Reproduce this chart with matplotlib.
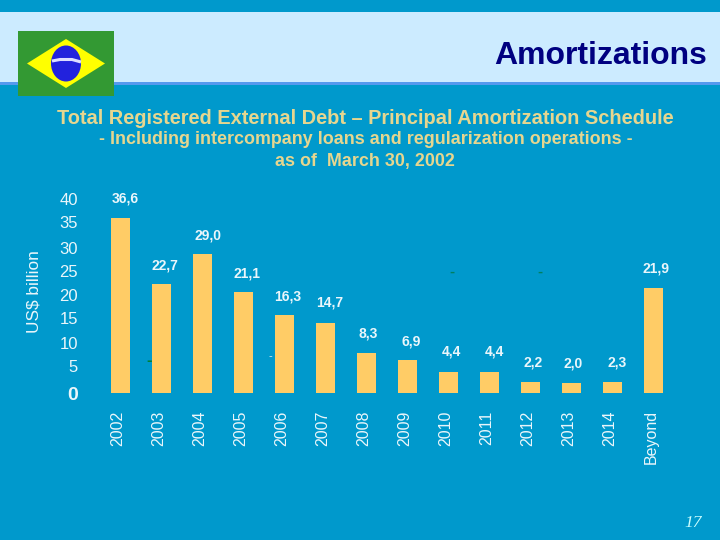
import matplotlib
matplotlib.use('Agg')
import matplotlib.pyplot as plt
from matplotlib.patches import Ellipse, Polygon, Rectangle
from matplotlib.transforms import ScaledTranslation

plt.rcParams['font.family'] = ['Liberation Sans', 'DejaVu Sans']

years = ['2002', '2003', '2004', '2005', '2006', '2007', '2008', '2009',
         '2010', '2011', '2012', '2013', '2014', 'Beyond']
values = [36.6, 22.7, 29.0, 21.1, 16.3, 14.7, 8.3, 6.9, 4.4, 4.4, 2.2, 2.0, 2.3, 21.9]
labels = ['36,6', '22,7', '29,0', '21,1', '16,3', '14,7', '8,3', '6,9',
          '4,4', '4,4', '2,2', '2,0', '2,3', '21,9']

# the value labels were placed by hand on the slide, offsets in pixels from bar top
label_dx = [5, 4, 6, 4, 4, 5, 2, 4, 3, 5, 3, 2, 5, 3]
label_dy = [20, 19, 19, 19, 19, 20, 20, 19, 20, 20, 20, 20, 20, 20]

# same for the y labels, they don't sit exactly on the scale
ytick_pos = [0, 5.6, 10.5, 15.7, 20.5, 25.5, 30.3, 35.8, 40.6]
ytick_txt = ['0', '5', '10', '15', '20', '25', '30', '35', '40']

BG = '#0099CC'
BAND = '#CCEBFF'
GOLD = '#E6D68F'
PALE = '#EAF6FB'

fig = plt.figure(figsize=(7.2, 5.4), dpi=100, facecolor=BG)

# slide furniture, in pixels
bg = fig.add_axes([0, 0, 1, 1])
bg.set_xlim(0, 720)
bg.set_ylim(540, 0)
bg.axis('off')
bg.add_patch(Rectangle((0, 12), 720, 70, color=BAND, lw=0))
bg.add_patch(Rectangle((0, 82), 720, 3, color='#5599EE', lw=0))

bg.add_patch(Rectangle((18, 31), 96, 65, color='#339933', lw=0))
bg.add_patch(Polygon([(27, 63.5), (66, 39), (105, 63.5), (66, 88)], color='#FFFF00', lw=0))
bg.add_patch(Ellipse((66, 63.5), 30, 36, color='#2222DD', lw=0))
bg.plot([52, 60, 72, 81], [61, 59.5, 59.5, 62], color='#DDDDFF', lw=2.2, solid_capstyle='butt')

bg.text(707, 56, 'Amortizations', color='#000080', fontsize=23, fontweight='bold',
        ha='right', va='center')
bg.text(365.5, 118, 'Total Registered External Debt \u2013 Principal Amortization Schedule',
        color=GOLD, fontsize=14.4, fontweight='bold', ha='center', va='center')
bg.text(365.5, 140, '- Including intercompany loans and regularization operations -',
        color=GOLD, fontsize=12.85, fontweight='bold', ha='center', va='center')
bg.text(365, 161.5, 'as of  March 30, 2002', color=GOLD, fontsize=12.85, fontweight='bold',
        ha='center', va='center')
bg.text(34, 292, 'US$ billion', color=PALE, fontsize=12.4, rotation=90, ha='center', va='center')
bg.text(693, 523, '17', color='#CCFFFF', fontsize=12.5, style='italic', family='Liberation Serif',
        ha='center', va='center')

# stray green dashes left over on the original slide
bg.text(149.5, 361, '-', color='#008033', fontsize=12, fontweight='bold', ha='center', va='center')
bg.text(270.5, 356, '-', color='#DDEEEE', fontsize=8, ha='center', va='center')
bg.text(451.5, 272, '-', color='#008060', fontsize=11, fontweight='bold', ha='center', va='center')
bg.text(540, 272, '-', color='#008060', fontsize=11, fontweight='bold', ha='center', va='center')

# chart, x -0.5 to 13.5 is 99.5 to 673.5 px, y 0 to 42 is 393 to 192.2 px
ax = fig.add_axes([99.5 / 720, (540 - 393) / 540, 574 / 720, 200.8 / 540])
ax.patch.set_alpha(0)
x = list(range(len(years)))
ax.bar(x, values, width=19 / 41, color='#FFCC66', lw=0)
ax.set_xlim(-0.5, 13.5)
ax.set_ylim(0, 42)
for s in ax.spines.values():
    s.set_visible(False)

ax.set_xticks(x)
ax.set_xticklabels(years, rotation=90, color=PALE, fontsize=11.5)
ax.set_yticks(ytick_pos)
ax.set_yticklabels(ytick_txt, color=PALE, fontsize=12)
ax.tick_params(axis='x', length=0, pad=12.5)
ax.tick_params(axis='y', length=0, pad=15.5)

shift = ScaledTranslation(-2 / 100, 0, fig.dpi_scale_trans)
for t in ax.get_xticklabels():
    t.set_transform(t.get_transform() + shift)
zero = ax.get_yticklabels()[0]
zero.set_fontweight('bold')
zero.set_fontsize(14)

for i, v in enumerate(values):
    ax.annotate(labels[i], (i, v), xytext=(label_dx[i] * 0.72, label_dy[i] * 0.72),
                textcoords='offset points', color=PALE, fontsize=10, fontweight='bold',
                ha='center', va='center')

fig.savefig('out.png', dpi=100, facecolor=BG)
